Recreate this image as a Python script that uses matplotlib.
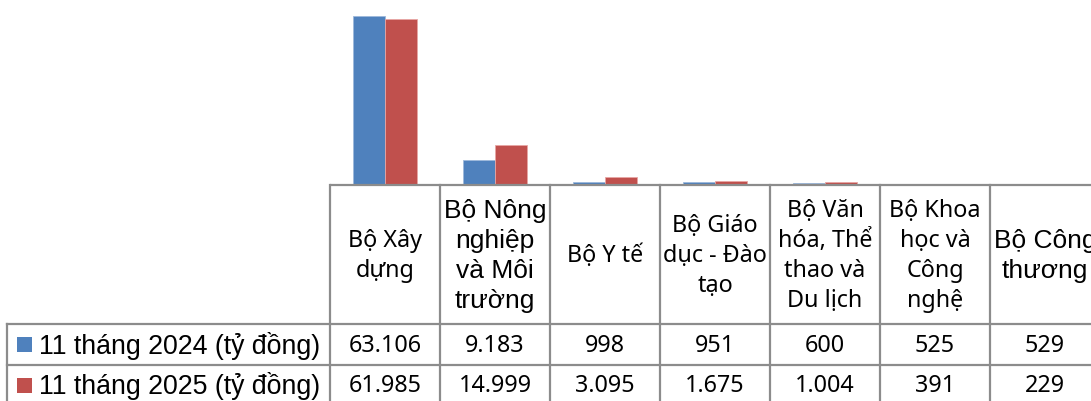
import matplotlib
matplotlib.use("Agg")
import matplotlib.pyplot as plt
import numpy as np

# dữ liệu
categories = ["Bộ Xây\ndựng", "Bộ Nông\nnghiệp\nvà Môi\ntrường", "Bộ Y tế",
              "Bộ Giáo\ndục - Đào\ntạo", "Bộ Văn\nhóa, Thể\nthao và\nDu lịch",
              "Bộ Khoa\nhọc và\nCông\nnghệ", "Bộ Công\nthương"]
header_arial = [False, True, False, False, False, False, True]
series_names = ["11 tháng 2024 (tỷ đồng)", "11 tháng 2025 (tỷ đồng)"]
values_2024 = [63106, 9183, 998, 951, 600, 525, 529]
values_2025 = [61985, 14999, 3095, 1675, 1004, 391, 229]
colors = ["#4F81BD", "#C0504D"]

W, H = 1091, 401
fig = plt.figure(figsize=(W / 100, H / 100), dpi=100)

# vùng biểu đồ cột (tính theo pixel)
x0, col_w, base_y = 330, 110, 185
n = len(categories)
ax = fig.add_axes([x0 / W, (H - base_y) / H, n * col_w / W, base_y / H])
x = np.arange(n)
bw = 0.29
ax.bar(x - bw / 2, values_2024, bw, color=colors[0], edgecolor="#9DB8DB", linewidth=0.6)
ax.bar(x + bw / 2, values_2025, bw, color=colors[1], edgecolor="#E8A6A4", linewidth=0.6)
ax.set_xlim(-0.5, n - 0.5)
ax.set_ylim(0, 63106 * base_y / 169)
ax.axis("off")

# bảng dữ liệu
tb = fig.add_axes([0, 0, 1, 1])
tb.set_xlim(0, W)
tb.set_ylim(H, 0)
tb.axis("off")
lc, lw = "#8C8C8C", 1.6
hdr_bot, row_h, left = 324, 41, 7
tb.plot([x0, x0 + n * col_w], [base_y, base_y], color=lc, lw=lw, solid_capstyle="butt")
for i in range(n + 1):
    xi = x0 + i * col_w
    tb.plot([xi, xi], [base_y, H + 10], color=lc, lw=lw)
for r in range(2):
    yr = hdr_bot + r * row_h
    tb.plot([left, x0 + n * col_w], [yr, yr], color=lc, lw=lw)
tb.plot([left, left], [hdr_bot, H + 10], color=lc, lw=lw)

for i, cat in enumerate(categories):
    cx = x0 + (i + 0.5) * col_w
    if header_arial[i]:
        tb.text(cx, 256, cat, ha="center", va="center", fontsize=19,
                family="Liberation Sans", linespacing=1.3)
    else:
        tb.text(cx, 256, cat, ha="center", va="center", fontsize=16.8,
                family="Noto Sans", linespacing=1.34)

for r, (name, vals) in enumerate([(series_names[0], values_2024), (series_names[1], values_2025)]):
    cy = hdr_bot + (r + 0.5) * row_h
    tb.add_patch(plt.Rectangle((17, cy - 7.5), 15, 15, color=colors[r], lw=0))
    tb.text(39, cy + 1, name, ha="left", va="center", fontsize=19.3, family="Liberation Sans")
    for i, v in enumerate(vals):
        cx = x0 + (i + 0.5) * col_w
        txt = f"{v:,}".replace(",", ".")
        tb.text(cx, cy + 1, txt, ha="center", va="center", fontsize=16.8, family="Noto Sans")

fig.savefig("out.png", dpi=100)
